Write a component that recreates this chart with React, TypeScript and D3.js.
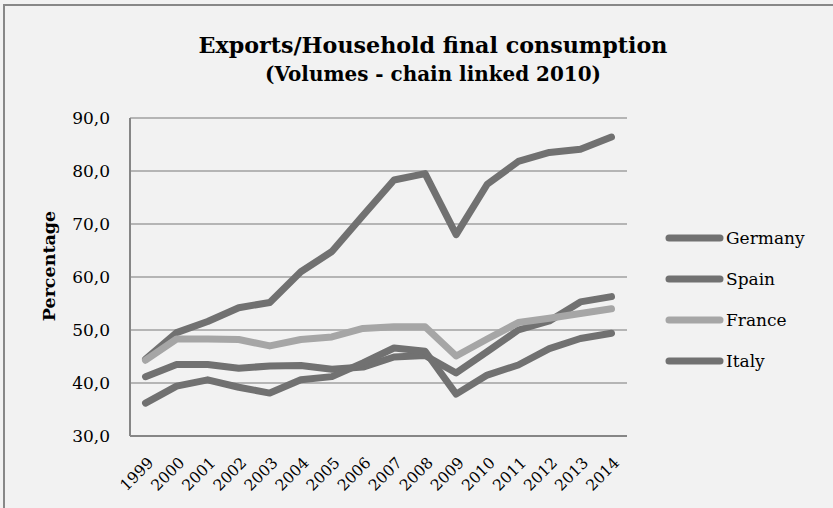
import React from 'react';
import * as d3 from 'd3';

const years = ['1999','2000','2001','2002','2003','2004','2005','2006','2007','2008','2009','2010','2011','2012','2013','2014'];
const germany = [44.5,49.5,51.6,54.2,55.2,61.0,64.8,71.6,78.3,79.5,68.0,77.5,81.8,83.5,84.1,86.4];
const spain = [41.2,43.5,43.5,42.8,43.2,43.3,42.6,43.0,44.9,45.2,41.9,45.9,50.0,51.7,55.3,56.3];
const france = [44.3,48.3,48.3,48.2,47.0,48.2,48.7,50.3,50.6,50.6,45.1,48.3,51.4,52.2,53.1,54.0];
const italy = [36.2,39.4,40.6,39.2,38.1,40.6,41.2,43.8,46.6,46.0,37.9,41.5,43.4,46.5,48.4,49.4];
const yTicks = [30,40,50,60,70,80,90];

const seriesNames = ['Germany','Spain','France','Italy'];
const seriesValues = [germany, spain, france, italy];
const seriesColors = ['#717171','#717171','#a6a6a6','#717171'];

const W = 833, H = 508;
const left = 130, right = 627, top = 118, bottom = 436;
const serif = "'DejaVu Serif', serif";

export default function App() {
  const x = d3.scaleBand().domain(years).range([left, right]);
  const cx = (yr: string) => (x(yr) as number) + x.bandwidth() / 2;
  const y = d3.scaleLinear().domain([30, 90]).range([bottom, top]);
  const line = d3.line<number>().x((_, i) => cx(years[i])).y(d => y(d));
  const fmt = (v: number) => v.toFixed(1).replace('.', ',');
  return (
    <svg width={W} height={H} style={{ position: 'absolute', left: 0, top: 0 }}>
      <rect x={0} y={0} width={W} height={H} fill="#f2f2f2" />
      <rect x={4} y={5} width={W + 20} height={H + 20} fill="#f2f2f2" stroke="#888" strokeWidth={2} />
      <text x={433} y={53} textAnchor="middle" fontFamily={serif} fontWeight="bold" fontSize={23}
        textLength={469} lengthAdjust="spacingAndGlyphs" fill="#000">Exports/Household final consumption</text>
      <text x={433} y={81} textAnchor="middle" fontFamily={serif} fontWeight="bold" fontSize={20}
        textLength={336} lengthAdjust="spacingAndGlyphs" fill="#000">(Volumes - chain linked 2010)</text>
      {yTicks.filter(t => t > 30).map(t => (
        <line key={t} x1={left} x2={right} y1={y(t)} y2={y(t)} stroke="#a0a0a0" strokeWidth={1.5} />
      ))}
      <line x1={left} x2={left} y1={top} y2={bottom} stroke="#868686" strokeWidth={2} />
      <line x1={left} x2={right} y1={bottom} y2={bottom} stroke="#868686" strokeWidth={2} />
      {yTicks.map(t => (
        <text key={t} x={110} y={y(t)} dy="0.35em" textAnchor="end" fontFamily={serif} fontSize={17} fill="#000">{fmt(t)}</text>
      ))}
      {years.map(yr => (
        <text key={yr} transform={`translate(${cx(yr) + 5},${460}) rotate(-45)`} dy="0.35em" textAnchor="end"
          fontFamily={serif} fontSize={15.5} fill="#000">{yr}</text>
      ))}
      <text transform={`translate(55,${266}) rotate(-90)`} textAnchor="middle" fontFamily={serif}
        fontWeight="bold" fontSize={17.5} fill="#000">Percentage</text>
      {seriesNames.map((n, i) => (
        <path key={n} d={line(seriesValues[i]) as string} fill="none" stroke={seriesColors[i]}
          strokeWidth={7} strokeLinecap="round" strokeLinejoin="round" />
      ))}
      {seriesNames.map((n, i) => {
        const ly = 238 + i * 41;
        return (
          <g key={n}>
            <line x1={669} x2={720} y1={ly} y2={ly} stroke={seriesColors[i]} strokeWidth={7} strokeLinecap="round" />
            <text x={726} y={ly} dy="0.35em" fontFamily={serif} fontSize={17} fill="#000">{n}</text>
          </g>
        );
      })}
    </svg>
  );
}
